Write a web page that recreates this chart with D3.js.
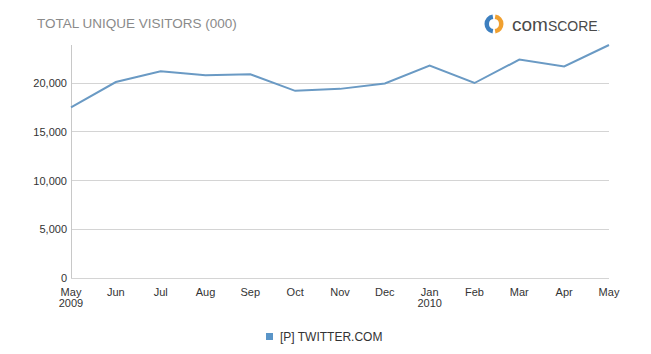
<!DOCTYPE html>
<html>
<head>
<meta charset="utf-8">
<script src="https://cdn.jsdelivr.net/npm/d3@7"></script>
<style>
  body { margin: 0; background: #fff; }
  svg { display: block; font-family: "Liberation Sans", Arial, sans-serif; }
</style>
</head>
<body>
<div id="chart"></div>
<script>
// chart data
const months = ["May", "Jun", "Jul", "Aug", "Sep", "Oct", "Nov", "Dec", "Jan", "Feb", "Mar", "Apr", "May"];
const years = ["2009", "", "", "", "", "", "", "", "2010", "", "", "", ""];
const visitors = [17500, 20100, 21200, 20800, 20900, 19200, 19400, 19950, 21800, 20000, 22400, 21700, 23900];
const yTicks = [0, 5000, 10000, 15000, 20000];
const seriesName = "[P] TWITTER.COM";

const W = 651, H = 354;
const margin = { left: 71, right: 42, top: 45, bottom: 76 };

function draw() {
    var svg = d3.select("#chart").append("svg")
        .attr("width", W)
        .attr("height", H);

    var x = d3.scalePoint()
        .domain(d3.range(months.length))
        .range([margin.left, W - margin.right]);

    var y = d3.scaleLinear()
        .domain([0, 23900])
        .range([H - margin.bottom, margin.top]);

    // title
    svg.append("text")
        .attr("x", 37).attr("y", 28)
        .attr("fill", "#8a8a8a")
        .style("font-size", "13.5px")
        .text("TOTAL UNIQUE VISITORS (000)");

    // comScore logo
    var logo = svg.append("g").attr("transform", "translate(494,24)");
    logo.append("path")
        .attr("d", d3.arc().innerRadius(5).outerRadius(9.5).startAngle(Math.PI * 1.05).endAngle(Math.PI * 1.95)())
        .attr("fill", "#3d7fbf");
    logo.append("path")
        .attr("d", d3.arc().innerRadius(5).outerRadius(9.5).startAngle(Math.PI * 0.05).endAngle(Math.PI * 0.95)())
        .attr("fill", "#f0a030");
    var logoText = svg.append("text")
        .attr("x", 512).attr("y", 31)
        .attr("fill", "#4a4a4a");
    logoText.append("tspan").style("font-size", "19px").text("com");
    logoText.append("tspan").style("font-size", "14px").text("SCORE");
    logoText.append("tspan").style("font-size", "8px").text(".");

    // gridlines
    svg.append("g").selectAll("line")
        .data(yTicks)
        .join("line")
        .attr("x1", margin.left).attr("x2", W - margin.right)
        .attr("y1", d => y(d)).attr("y2", d => y(d))
        .attr("stroke", "#d4d4d4")
        .attr("stroke-width", 1)
        .attr("shape-rendering", "crispEdges");

    // y axis line
    svg.append("line")
        .attr("x1", margin.left).attr("x2", margin.left)
        .attr("y1", margin.top).attr("y2", H - margin.bottom)
        .attr("stroke", "#c8c8c8")
        .attr("shape-rendering", "crispEdges");

    // y tick labels
    svg.append("g").selectAll("text")
        .data(yTicks)
        .join("text")
        .attr("x", margin.left - 4)
        .attr("y", d => y(d) + 4)
        .attr("text-anchor", "end")
        .attr("fill", "#333")
        .style("font-size", "11px")
        .text(d => d3.format(",")(d));

    // x tick labels
    svg.append("g").selectAll("text")
        .data(months)
        .join("text")
        .attr("x", (d, i) => x(i))
        .attr("y", H - margin.bottom + 18)
        .attr("text-anchor", "middle")
        .attr("fill", "#333")
        .style("font-size", "11px")
        .text(d => d);
    svg.append("g").selectAll("text")
        .data(years)
        .join("text")
        .attr("x", (d, i) => x(i))
        .attr("y", H - margin.bottom + 29)
        .attr("text-anchor", "middle")
        .attr("fill", "#333")
        .style("font-size", "11px")
        .text(d => d);

    // the line
    var line = d3.line()
        .x((d, i) => x(i))
        .y(d => y(d));

    svg.append("path")
        .datum(visitors)
        .attr("d", line)
        .attr("fill", "none")
        .attr("stroke", "#6a9ac4")
        .attr("stroke-width", 2);

    // legend
    var lg = svg.append("g").attr("transform", "translate(266,333)");
    lg.append("rect")
        .attr("x", 0).attr("y", 0)
        .attr("width", 7).attr("height", 7)
        .attr("fill", "#5a95c8");
    lg.append("text")
        .attr("x", 14).attr("y", 8)
        .attr("fill", "#333")
        .style("font-size", "12px")
        .text(seriesName);
}

draw();
</script>
</body>
</html>
